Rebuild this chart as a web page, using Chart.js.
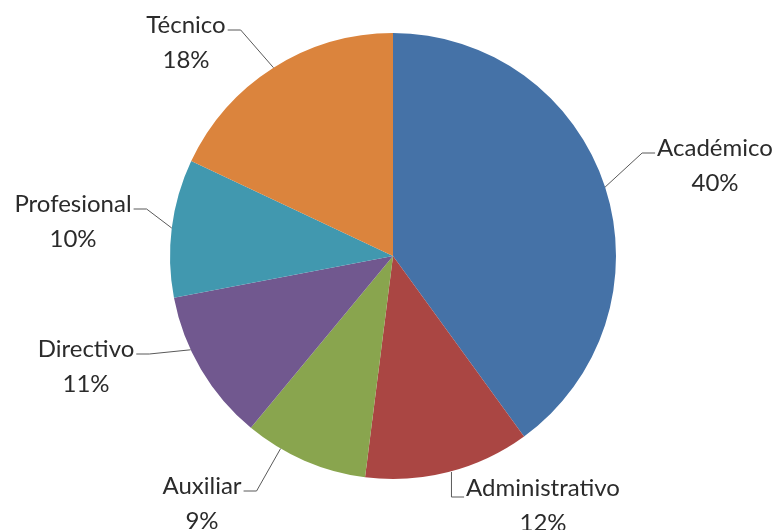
<!DOCTYPE html>
<html>
<head>
<meta charset="utf-8">
<script src="https://cdn.jsdelivr.net/npm/chart.js@4"></script>
<style>
  html, body { margin:0; padding:0; background:#fff; }
  #wrap { width:780px; height:530px; }
</style>
</head>
<body>
<div id="wrap"><canvas id="chartPie" width="780" height="530"></canvas></div>
<script>
// ── data ──
const categories = ['Académico', 'Administrativo', 'Auxiliar', 'Directivo', 'Profesional', 'Técnico'];
const shares = [40, 12, 9, 11, 10, 18];   // %
const sliceColors = ['#4572A7', '#AA4643', '#89A54E', '#71588F', '#4198AF', '#DB843D'];

// label placement (baseline of the name line, text centre, leader style)
// tip = optional shift of the leader's end along the rim, in radians
const labelLayout = [
  { cx: 715, base: 156, side: 'right' },
  { cx: 543, base: 496, side: 'below' },
  { cx: 202, base: 494, side: 'left', tip: 0.12 },
  { cx: 86,  base: 357, side: 'left', tip: 0.1 },
  { cx: 73,  base: 212, side: 'left' },
  { cx: 186, base: 33,  side: 'left' },
];

const FONT = '24px Lato, "Liberation Sans", sans-serif';
const LINE_GAP = 35;

// draws Excel-like outside labels with leader lines
const outsideLabels = {
  id: 'outsideLabels',
  afterDatasetsDraw(chart) {
    const ctx = chart.ctx;
    const meta = chart.getDatasetMeta(0);
    ctx.save();
    ctx.font = FONT;
    ctx.textAlign = 'center';
    ctx.textBaseline = 'alphabetic';
    meta.data.forEach((arc, i) => {
      const lay = labelLayout[i];
      const name = categories[i];
      const pctTxt = shares[i] + '%';
      const mid = (arc.startAngle + arc.endAngle) / 2 + (lay.tip || 0);
      const px = arc.x + Math.cos(mid) * arc.outerRadius;
      const py = arc.y + Math.sin(mid) * arc.outerRadius;
      const w = ctx.measureText(name).width;

      // leader
      ctx.strokeStyle = '#595959';
      ctx.lineWidth = 1;
      ctx.beginPath();
      const ly = lay.base - 3;
      if (lay.side === 'left') {
        const sx = lay.cx + w / 2 + 2;
        ctx.moveTo(sx, ly);
        ctx.lineTo(sx + 13, ly);
        ctx.lineTo(px, py);
      } else if (lay.side === 'right') {
        const sx = lay.cx - w / 2 - 2;
        ctx.moveTo(sx, ly);
        ctx.lineTo(sx - 13, ly);
        ctx.lineTo(px, py);
      } else {
        const sx = lay.cx - w / 2 - 2;
        ctx.moveTo(px + 3, py);
        ctx.lineTo(px + 3, lay.base + 1);
        ctx.lineTo(sx, lay.base + 1);
      }
      ctx.stroke();

      ctx.fillStyle = '#2b2b2b';
      ctx.fillText(name, lay.cx, lay.base);
      ctx.fillText(pctTxt, lay.cx, lay.base + LINE_GAP);
    });
    ctx.restore();
  }
};

new Chart(document.getElementById('chartPie').getContext('2d'), {
  type: 'pie',
  data: {
    labels: categories,
    datasets: [{
      data: shares,
      backgroundColor: sliceColors,
      borderWidth: 0,
    }]
  },
  options: {
    responsive: false,
    animation: false,
    rotation: 0,
    layout: { padding: { left: 170, right: 164, top: 33, bottom: 51 } },
    plugins: {
      legend: { display: false },
      tooltip: { enabled: false },
    }
  },
  plugins: [outsideLabels]
});
</script>
</body>
</html>
